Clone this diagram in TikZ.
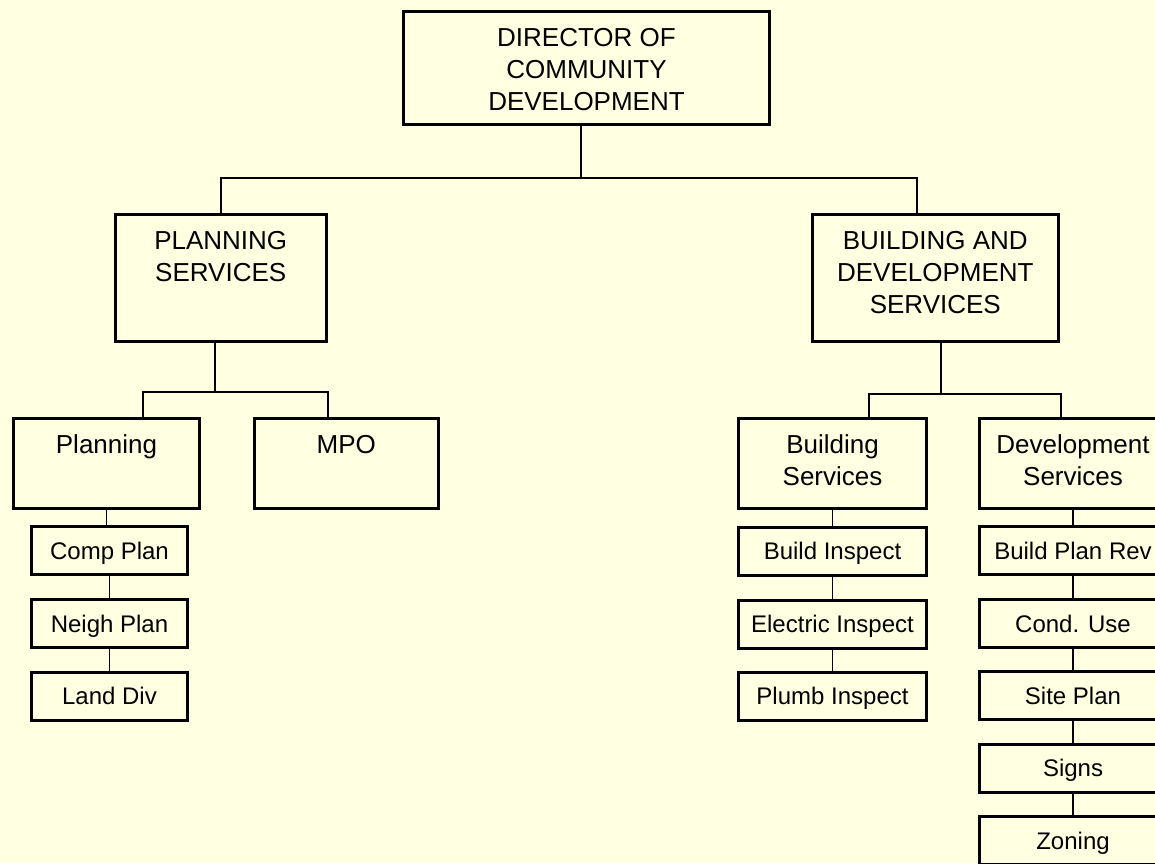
\documentclass[tikz,border=0pt]{standalone}
\usepackage{fontspec}
\setmainfont{Liberation Sans}
\usetikzlibrary{positioning}
\definecolor{paper}{RGB}{255,255,225}

\begin{document}
\begin{tikzpicture}[x=0.5pt, y=-0.5pt,
    unitbox/.style 2 args={draw, line width=1.5pt, inner sep=0pt,
        font=\fontsize{13pt}{16pt}\selectfont,
        execute at begin node={\begin{minipage}[c][#2][t]{#1}\centering\rule{0pt}{17.5pt}},
        execute at end node={\end{minipage}}},
    office/.style={draw, line width=1.5pt, inner sep=0pt, minimum width=94pt, minimum height=24pt,
        font=\fontsize{12pt}{14pt}\selectfont, text height=8.6pt, text depth=0pt},
    link/.style={line width=1pt},
    sublink/.style={line width=0.75pt}]

    % Draw page
    \fill[paper] (0,0) rectangle (1155,863);
    \useasboundingbox (0,0) rectangle (1155,863);

    % Draw director and the two services
    \node[unitbox={183pt}{56.5pt}] (director) at (586.5,68) {DIRECTOR OF\\COMMUNITY\\DEVELOPMENT};
    \node[unitbox={105.25pt}{63.5pt}] (plansvc) at (220.75,278) {PLANNING\\SERVICES};
    \node[unitbox={123.15pt}{63.5pt}] (bldgdev) at (935.3,278) {BUILDING AND\\DEVELOPMENT\\SERVICES};

    % Draw divisions
    \node[unitbox={93pt}{44.75pt}] (planning) at (106.5,463.25) {Planning};
    \node[unitbox={92.15pt}{44.75pt}] (mpo) at (346.3,463.25) {MPO};
    \node[unitbox={94pt}{45pt}] (bldgsvc) at (832.5,463.5) {Building\\Services};
    \node[unitbox={94pt}{45pt}] (devsvc) at (1073,463.5) {Development\\Services};

    % Draw sections
    \node[office, minimum width=78pt] (compplan) at (109.5,550.5) {Comp Plan};
    \node[office, minimum width=78pt] (neighplan) at (109.5,623.5) {Neigh Plan};
    \node[office, minimum width=78pt] (landdiv) at (109.5,696) {Land Div};
    \node[office] (buildinsp) at (832.5,551) {Build Inspect};
    \node[office] (elecinsp) at (832.5,624) {Electric Inspect};
    \node[office] (plumbinsp) at (832.5,696) {Plumb Inspect};
    \node[office] (planrev) at (1073,550.5) {Build Plan Rev};
    \node[office] (conduse) at (1073,623.5) {Cond. Use};
    \node[office] (siteplan) at (1073,695.5) {Site Plan};
    \node[office] (signs) at (1073,768) {Signs};
    \node[office] (zoning) at (1073,840.5) {Zoning};

    % Draw connectors
    \draw[link] ([xshift=-2.9pt]director.south) -- ++(0,-25.75pt) coordinate (topbar);
    \draw[link] (topbar) -| (plansvc.north);
    \draw[link] (topbar) -| ([xshift=-9.3pt]bldgdev.north);
    \draw[link] ([xshift=-2.9pt]plansvc.south) -- ++(0,-24.25pt) coordinate (psbar);
    \draw[link] (psbar) -| ([xshift=18.25pt]planning.north);
    \draw[link] (psbar) -| ([xshift=-9.15pt]mpo.north);
    \draw[link] ([xshift=2.85pt]bldgdev.south) -- ++(0,-25.25pt) coordinate (bdbar);
    \draw[link] (bdbar) -| ([xshift=18.25pt]bldgsvc.north);
    \draw[link] (bdbar) -| ([xshift=-6pt]devsvc.north);
    \foreach \a/\b in {planning/compplan, compplan/neighplan, neighplan/landdiv,
                       bldgsvc/buildinsp, buildinsp/elecinsp, elecinsp/plumbinsp,
                       devsvc/planrev, planrev/conduse, conduse/siteplan, siteplan/signs, signs/zoning}
        \draw[sublink] (\a.south) -- (\a.south |- \b.north);

\end{tikzpicture}
\end{document}
